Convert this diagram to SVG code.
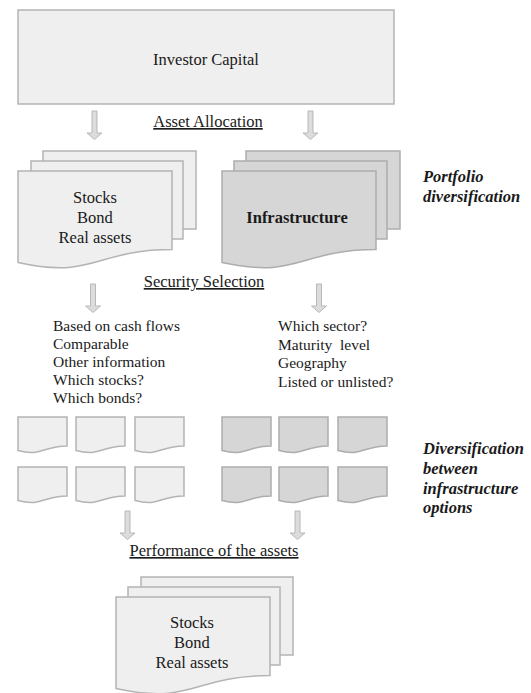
<svg xmlns="http://www.w3.org/2000/svg" width="531" height="693" viewBox="0 0 531 693">
<style>
.lt{fill:#efefef;stroke:#b4b4b4;stroke-width:1.5}
.dk{fill:#d6d6d6;stroke:#adadad;stroke-width:1.5}
.arr{fill:#dcdcdc;stroke:#b8b8b8;stroke-width:1}
.tx{font-family:"Times New Roman","Liberation Serif",Tinos,"DejaVu Serif",serif;fill:#1a1a1a}
.t{font-size:16.5px}
.c{text-anchor:middle}
.u{text-decoration:underline}
.l{font-size:15.5px}
.bi{font-size:16.5px;font-weight:bold;font-style:italic}
</style>
<defs>
<path id="bigdoc" d="M0 0 h154 v78.6 c-77 0 -77 29.9 -154 12.9 z"/>
<path id="smdoc" d="M0 0 h49 v28.9 c-24.5 0 -24.5 11 -49 4.7 z"/>
<path id="arrow" d="M-2.5 0 h5 v22 h5 l-7.5 6.5 l-7.5 -6.5 h5 z"/>
</defs>
<rect width="531" height="693" fill="#ffffff"/>

<g id="investor-capital">
<rect class="lt" x="18" y="10" width="376" height="94"/>
<text class="tx t c" x="206" y="65">Investor Capital</text>
</g>

<g id="connectors">
<use href="#arrow" class="arr" x="94.5" y="111"/>
<use href="#arrow" class="arr" x="310.5" y="111"/>
<use href="#arrow" class="arr" x="93" y="284"/>
<use href="#arrow" class="arr" x="319" y="284"/>
<use href="#arrow" class="arr" x="127.5" y="511"/>
<use href="#arrow" class="arr" x="297.5" y="511"/>
</g>

<g id="asset-allocation">
<text class="tx t c u" x="208" y="127">Asset Allocation</text>
</g>

<g id="traditional-assets">
<rect class="lt" x="43" y="151" width="153" height="78"/>
<rect class="lt" x="31" y="161" width="152" height="78"/>
<use href="#bigdoc" class="lt" x="18" y="171"/>
<text class="tx t c" x="95" y="203">Stocks</text>
<text class="tx t c" x="95" y="223">Bond</text>
<text class="tx t c" x="95" y="243">Real assets</text>
</g>

<g id="infrastructure">
<rect class="dk" x="246" y="151" width="154" height="78"/>
<rect class="dk" x="234" y="161" width="153" height="78"/>
<use href="#bigdoc" class="dk" x="222" y="171"/>
<text class="tx t c" x="297" y="223" font-weight="bold">Infrastructure</text>
</g>

<g id="portfolio-diversification">
<text class="tx bi" x="423" y="182">Portfolio</text>
<text class="tx bi" x="423" y="202">diversification</text>
</g>

<g id="security-selection">
<text class="tx t c u" x="204" y="287">Security Selection</text>
</g>

<g id="traditional-criteria">
<text class="tx l" x="53" y="331">Based on cash flows</text>
<text class="tx l" x="53" y="349">Comparable</text>
<text class="tx l" x="53" y="367">Other information</text>
<text class="tx l" x="53" y="385">Which stocks?</text>
<text class="tx l" x="53" y="403">Which bonds?</text>
</g>

<g id="infrastructure-criteria">
<text class="tx l" x="278" y="331">Which sector?</text>
<text class="tx l" x="278" y="349.5" xml:space="preserve">Maturity  level</text>
<text class="tx l" x="278" y="368">Geography</text>
<text class="tx l" x="278" y="386.5">Listed or unlisted?</text>
</g>

<g id="traditional-options">
<use href="#smdoc" class="lt" x="18" y="417"/>
<use href="#smdoc" class="lt" x="76" y="417"/>
<use href="#smdoc" class="lt" x="135" y="417"/>
<use href="#smdoc" class="lt" x="18" y="467"/>
<use href="#smdoc" class="lt" x="76" y="467"/>
<use href="#smdoc" class="lt" x="135" y="467"/>
</g>

<g id="infrastructure-options">
<use href="#smdoc" class="dk" x="222" y="417"/>
<use href="#smdoc" class="dk" x="279" y="417"/>
<use href="#smdoc" class="dk" x="338" y="417"/>
<use href="#smdoc" class="dk" x="222" y="467"/>
<use href="#smdoc" class="dk" x="279" y="467"/>
<use href="#smdoc" class="dk" x="338" y="467"/>
</g>

<g id="diversification-label">
<text class="tx bi" x="423" y="454">Diversification</text>
<text class="tx bi" x="423" y="474">between</text>
<text class="tx bi" x="423" y="494">infrastructure</text>
<text class="tx bi" x="423" y="513">options</text>
</g>

<g id="performance">
<text class="tx t c u" x="214" y="556">Performance of the assets</text>
</g>

<g id="result-assets">
<rect class="lt" x="141" y="577" width="152" height="78"/>
<rect class="lt" x="128" y="587" width="152" height="78"/>
<use href="#bigdoc" class="lt" x="116" y="597"/>
<text class="tx t c" x="192" y="628">Stocks</text>
<text class="tx t c" x="192" y="648">Bond</text>
<text class="tx t c" x="192" y="668">Real assets</text>
</g>
</svg>
